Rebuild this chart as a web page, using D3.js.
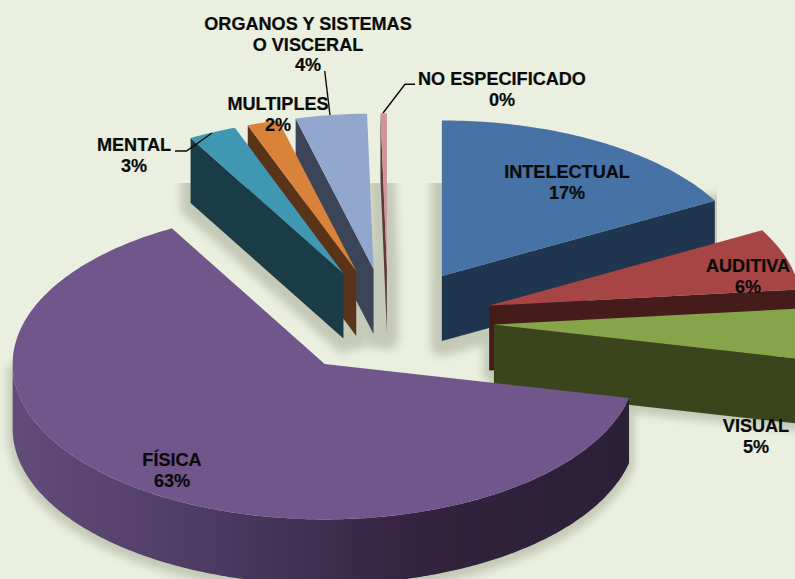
<!DOCTYPE html>
<html><head><meta charset="utf-8">
<script src="https://cdn.jsdelivr.net/npm/d3@7"></script>
<style>
html,body{margin:0;padding:0;background:#EBEFDF;overflow:hidden}
svg{display:block}
text{font-family:"Liberation Sans",Arial,sans-serif;font-weight:700;font-size:18.1px;fill:#0a0a0a;stroke:#0a0a0a;stroke-width:.2px;text-anchor:middle}
</style></head><body><svg id="c" width="795" height="579"></svg>
<script>
// ---- data ----
const categories = ["INTELECTUAL","AUDITIVA","VISUAL","FÍSICA","MENTAL","MULTIPLES","ORGANOS Y SISTEMAS|O VISCERAL","NO ESPECIFICADO"];
const shares     = [17.0, 6.4, 5.2, 63.5, 2.5, 1.64, 3.7, 0.33];
const percentLabels = ["17%","6%","5%","63%","3%","2%","4%","0%"];
const topColors  = ["#4672A6","#A64543","#86A44A","#70568B","#3F97B1","#D9823A","#92A7CE","#D09594"];
const wallColors = ["#20354F","#451C1A","#3A451D","#2C2238","#1A3C47","#5A3418","#3C4558","#5A3A3C"];
const shadowSpread = [22,12,8,10,20,20,20,24];
const paintOrder = [7,6,5,4,0,1,2,3];
// ---- layout ----
const W=795,H=579, cx=388, cy=321.5, rx=312, ry=155.5, depth=65, explode=0.34, floorTop=183, intelRight=717;
const labelPos = [[567,178],[748,272],[756,432],[172,466],[134,151],[278,110],[308,30],[502,85]];
const leaders = [[[175,151],[186.5,151],[212,133]],[[324.7,71],[330,115]],[[415,84.3],[405,84.3],[383,113]]];

const svg=d3.select("#c");
svg.append("rect").attr("width",W).attr("height",H).attr("fill","#EBEFDF");
const defs=svg.append("defs");
const blur=defs.append("filter").attr("id","blur").attr("filterUnits","userSpaceOnUse").attr("x",-50).attr("y",-50).attr("width",W+100).attr("height",H+100);
blur.append("feGaussianBlur").attr("stdDeviation",4.5);
defs.append("clipPath").attr("id","floor").append("rect").attr("x",0).attr("y",floorTop).attr("width",W).attr("height",H-floorTop);
defs.append("clipPath").attr("id","intel").append("rect").attr("x",0).attr("y",floorTop).attr("width",intelRight).attr("height",H-floorTop);
const grad=defs.append("linearGradient").attr("id","wallGrad").attr("gradientUnits","userSpaceOnUse")
  .attr("x1",cx-rx-64).attr("x2",cx+rx-64).attr("y1",0).attr("y2",0);
[[0,"#624C7A"],[0.25,"#523F68"],[0.5,"#3E2E50"],[0.65,"#33233E"],[1,"#2A2036"]].forEach(s=>grad.append("stop").attr("offset",s[0]).attr("stop-color",s[1]));

const arcs=d3.pie().sort(null).value(d=>d).startAngle(0).endAngle(2*Math.PI)(shares);
const px=d3.scaleLinear().domain([-1,1]).range([-rx,rx]);
const py=d3.scaleLinear().domain([-1,1]).range([-ry,ry]);
const line=d3.line();
function geo(a){
  const mid=(a.startAngle+a.endAngle)/2;
  const ax=cx+explode*px(Math.sin(mid)), ay=cy+explode*py(-Math.cos(mid));
  const rim=t=>[ax+px(Math.sin(t)),ay+py(-Math.cos(t))];
  const down=p=>[p[0],p[1]+depth];
  const n=Math.max(2,Math.ceil((a.endAngle-a.startAngle)*60));
  const samples=(s,e)=>d3.range(n+1).map(i=>s+(e-s)*i/n);
  return {apex:[ax,ay],rim,down,samples};
}
function topFace(a,g){return line([g.apex,...g.samples(a.startAngle,a.endAngle).map(g.rim)])+"Z";}
function radial(t,g){const r=g.rim(t);return line([g.apex,r,g.down(r),g.down(g.apex)])+"Z";}
function outer(s,e,g){const pts=g.samples(s,e).map(g.rim);return line([...pts,...pts.slice().reverse().map(g.down)])+"Z";}
function visibleWalls(a,g,all){
  const out=[];
  if(all||Math.sin(a.startAngle)<0) out.push(radial(a.startAngle,g));
  if(Math.sin(a.endAngle)>0) out.push(radial(a.endAngle,g));
  const s=Math.max(a.startAngle,Math.PI/2), e=Math.min(a.endAngle,1.5*Math.PI);
  if(e>s) out.push(outer(s,e,g));
  return out;
}
// floor shadows: blurred, spread outlines of the walls that touch the floor
const shadowColor="#C4C9B7";
arcs.forEach((a,i)=>{
  const g=geo(a);
  const sh=svg.append("g").attr("clip-path",i===0?"url(#intel)":"url(#floor)").append("g").attr("filter","url(#blur)").attr("transform","translate(0,4)");
  const all=(i===0||i===7);
  visibleWalls(a,g,all).forEach(d=>sh.append("path").attr("d",d).attr("fill",shadowColor).attr("stroke",shadowColor).attr("stroke-width",shadowSpread[i]).attr("stroke-linejoin","round"));
});
// slices, back to front
paintOrder.forEach(i=>{
  const a=arcs[i],g=geo(a),grp=svg.append("g");
  const wall=i===3?"url(#wallGrad)":wallColors[i];
  if(Math.sin(a.startAngle)<0) grp.append("path").attr("d",radial(a.startAngle,g)).attr("fill",wallColors[i]);
  if(Math.sin(a.endAngle)>0)   grp.append("path").attr("d",radial(a.endAngle,g)).attr("fill",wallColors[i]);
  const s=Math.max(a.startAngle,Math.PI/2), e=Math.min(a.endAngle,1.5*Math.PI);
  if(e>s) grp.append("path").attr("d",outer(s,e,g)).attr("fill",wall);
  grp.append("path").attr("d",topFace(a,g)).attr("fill",topColors[i]);
});
// leader lines
svg.selectAll("path.leader").data(leaders).join("path").attr("class","leader")
  .attr("d",d=>line(d)).attr("fill","none").attr("stroke","#0a0a0a").attr("stroke-width",1.4);
// labels
const lh=20.6;
categories.forEach((c,i)=>{
  const lines=c.split("|"); const t=svg.append("text");
  [...lines,percentLabels[i]].forEach((s,k)=>t.append("tspan").attr("x",labelPos[i][0]).attr("y",labelPos[i][1]+k*lh).text(s));
});
</script></body></html>
